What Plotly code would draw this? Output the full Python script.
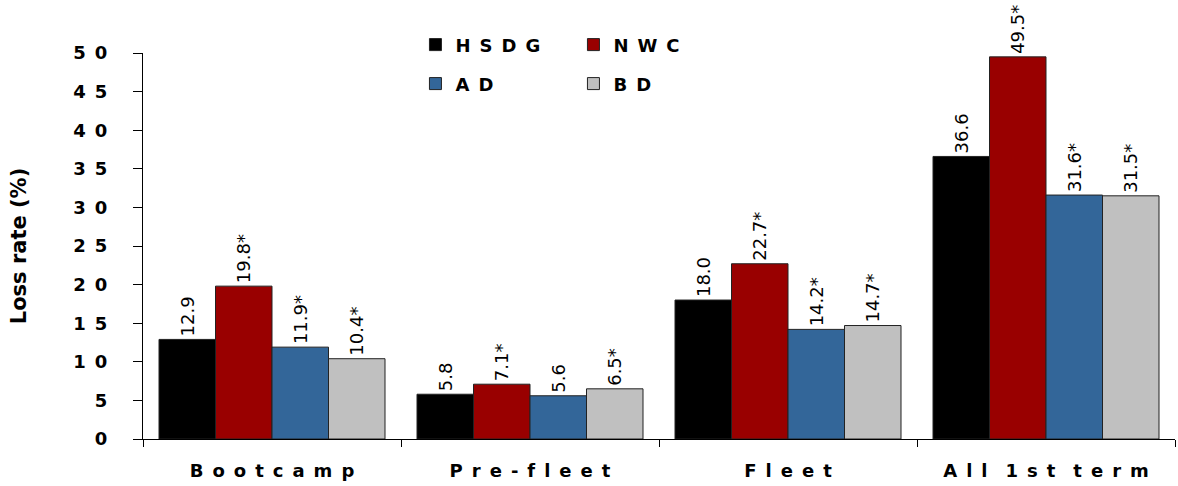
import plotly.graph_objects as go

categories = ["Bootcamp", "Pre-fleet", "Fleet", "All 1st term"]
series_names = ["HSDG", "NWC", "AD", "BD"]
hsdg = [12.9, 5.8, 18.0, 36.6]
nwc = [19.8, 7.1, 22.7, 49.5]
ad = [11.9, 5.6, 14.2, 31.6]
bd = [10.4, 6.5, 14.7, 31.5]
hsdg_lbl = ["12.9", "5.8", "18.0", "36.6"]
nwc_lbl = ["19.8*", "7.1*", "22.7*", "49.5*"]
ad_lbl = ["11.9*", "5.6", "14.2*", "31.6*"]
bd_lbl = ["10.4*", "6.5*", "14.7*", "31.5*"]
colors = ["#000000", "#990000", "#336699", "#C0C0C0"]
y_ticks = [0, 5, 10, 15, 20, 25, 30, 35, 40, 45, 50]

SP = "\u2002"
def spaced(s):
    return (SP + SP).join(SP.join(list(w)) for w in s.split(" "))

values = [hsdg, nwc, ad, bd]
labels = [hsdg_lbl, nwc_lbl, ad_lbl, bd_lbl]
legends = ["legend", "legend", "legend2", "legend2"]

fig = go.Figure()
for name, vals, lbl, col, lg in zip(series_names, values, labels, colors, legends):
    fig.add_trace(go.Bar(
        x=categories, y=vals, name=spaced(name), text=lbl,
        textposition="outside", textangle=-90, cliponaxis=False,
        constraintext="none",
        textfont=dict(family="DejaVu Sans", size=18, color="#000"),
        marker=dict(color=col, line=dict(color="#222222", width=1)),
        legend=lg,
    ))

legend_common = dict(
    orientation="h", xanchor="left", yanchor="middle",
    font=dict(family="DejaVu Sans", size=18, color="#000", weight="bold"),
    bgcolor="rgba(0,0,0,0)", entrywidth=113, entrywidthmode="pixels",
    traceorder="normal",
)

fig.update_layout(
    width=1178, height=486,
    margin=dict(l=143, r=3, t=53, b=47),
    paper_bgcolor="white", plot_bgcolor="white",
    barmode="group", bargap=0.124, bargroupgap=0,
    legend=dict(x=0.264, y=1.021, **legend_common),
    legend2=dict(x=0.264, y=0.92, **legend_common),
    uniformtext=dict(mode=False),
)

fig.update_xaxes(
    type="category", showline=True, linecolor="#000", linewidth=1,
    ticks="outside", tickson="boundaries", ticklen=7, tickcolor="#000",
    tickvals=categories, ticktext=[spaced(c) for c in categories],
    tickfont=dict(family="DejaVu Sans", size=18, color="#000", weight="bold"),
    ticklabelstandoff=15, showgrid=False, zeroline=False,
)
fig.update_yaxes(
    range=[0, 50], showline=True, linecolor="#000", linewidth=1,
    ticks="outside", ticklen=9, tickcolor="#000",
    tickvals=y_ticks, ticktext=[spaced(str(v)) for v in y_ticks],
    tickfont=dict(family="DejaVu Sans", size=18, color="#000", weight="bold"),
    ticklabelstandoff=22, showgrid=False, zeroline=False,
    title=dict(text="Loss rate (%)", standoff=40,
               font=dict(family="DejaVu Sans", size=21, color="#000", weight="bold")),
)

fig.write_html("out.html")
